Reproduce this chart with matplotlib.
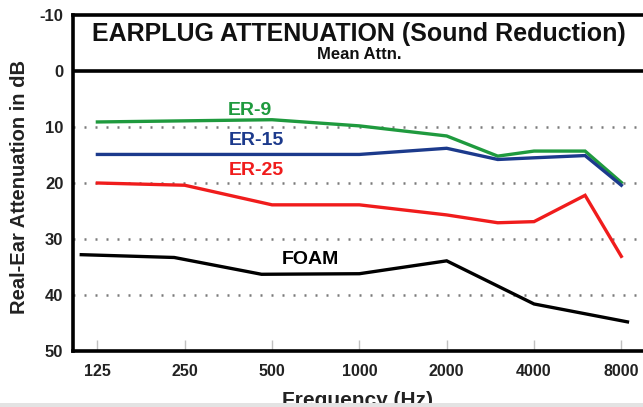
import numpy as np
import matplotlib
matplotlib.use("Agg")
import matplotlib.pyplot as plt

plt.rcParams['font.family'] = ['Liberation Sans', 'DejaVu Sans']

# ---- data (frequency in Hz, attenuation in dB) ----
er9_freq = [125, 250, 500, 1000, 2000, 3000, 4000, 6000, 8000]
er9_att = [9.1, 8.9, 8.7, 9.8, 11.6, 15.2, 14.3, 14.3, 19.9]

er15_freq = [125, 250, 500, 1000, 2000, 3000, 4000, 6000, 8000]
er15_att = [14.9, 14.9, 14.9, 14.9, 13.8, 15.8, 15.5, 15.1, 20.4]

er25_freq = [125, 250, 500, 1000, 2000, 3000, 4000, 6000, 8000]
er25_att = [20.0, 20.4, 23.9, 23.9, 25.7, 27.1, 26.9, 22.2, 33.1]

foam_freq = [110, 230, 460, 1000, 2000, 4000, 8400]
foam_att = [32.8, 33.3, 36.3, 36.2, 33.9, 41.6, 44.8]

tick_freqs = [125, 250, 500, 1000, 2000, 4000, 8000]
tick_labels = ['125', '250', '500', '1000', '2000', '4000', '8000']
y_ticks = [-10, 0, 10, 20, 30, 40, 50]

series = [
    ('ER-9', er9_freq, er9_att, '#1f9a3e', 420, 7.0),
    ('ER-15', er15_freq, er15_att, '#1c3a8c', 440, 12.4),
    ('ER-25', er25_freq, er25_att, '#f01c1c', 440, 17.8),
    ('FOAM', foam_freq, foam_att, '#000000', 680, 33.6),
]

fig = plt.figure(figsize=(6.43, 4.07), dpi=100)
fig.patch.set_facecolor('white')
ax = fig.add_axes([73/643, 1-351/407, 1-73/643 + 0.01, (351-15)/407])

ax.set_xscale('log', base=2)
ax.set_xlim(103, 10000)
ax.set_ylim(50, -10)

# dotted grid lines
for g in [10, 20, 30, 40]:
    ax.axhline(g, color='#7a7a7a', lw=1.8, ls=(0, (0.8, 3.6)), zorder=1)
# heavy line at 0
ax.axhline(0, color='black', lw=2.6, zorder=3)

for name, fx, fy, col, lx, ly in series:
    ax.plot(fx, fy, color=col, lw=2.4, solid_joinstyle='miter', zorder=4)
    ax.text(lx, ly, name, color=col, fontsize=14, fontweight='bold',
            ha='center', va='center', zorder=5)

ax.set_xticks(tick_freqs)
ax.set_xticklabels(tick_labels)
ax.xaxis.set_minor_locator(matplotlib.ticker.NullLocator())
ax.set_yticks(y_ticks)
ax.set_yticklabels([str(v) for v in y_ticks])

ax.tick_params(axis='x', direction='in', length=8, width=1, color='#c0c0c0',
               pad=9, labelsize=11.5)
ax.tick_params(axis='y', length=0, pad=7, labelsize=12)
for lab in ax.get_xticklabels() + ax.get_yticklabels():
    lab.set_fontweight('bold')
    lab.set_color('#222222')

for s in ['left', 'bottom', 'top']:
    ax.spines[s].set_linewidth(2.6)
    ax.spines[s].set_color('black')
ax.spines['right'].set_visible(False)

ax.text(1000, -6.6, 'EARPLUG ATTENUATION (Sound Reduction)', fontsize=18,
        fontweight='bold', ha='center', va='center', color='#111111')
ax.text(1000, -3.0, 'Mean Attn.', fontsize=12, fontweight='bold',
        ha='center', va='center', color='#111111')

fig.text(20/643, 1-187/407, 'Real-Ear Attenuation in dB', rotation=90,
         fontsize=14.5, fontweight='bold', ha='center', va='center', color='#222222')
fig.text(358/643, 1-401/407, 'Frequency (Hz)', fontsize=15, fontweight='bold',
         ha='center', va='center', color='#222222')

# grey band at the bottom of the image
fig.patches.append(matplotlib.patches.Rectangle((0, 0), 1, 4.5/407,
                   transform=fig.transFigure, facecolor='#e3e3e3',
                   edgecolor='none', zorder=10))

fig.savefig('out.png', dpi=100)
